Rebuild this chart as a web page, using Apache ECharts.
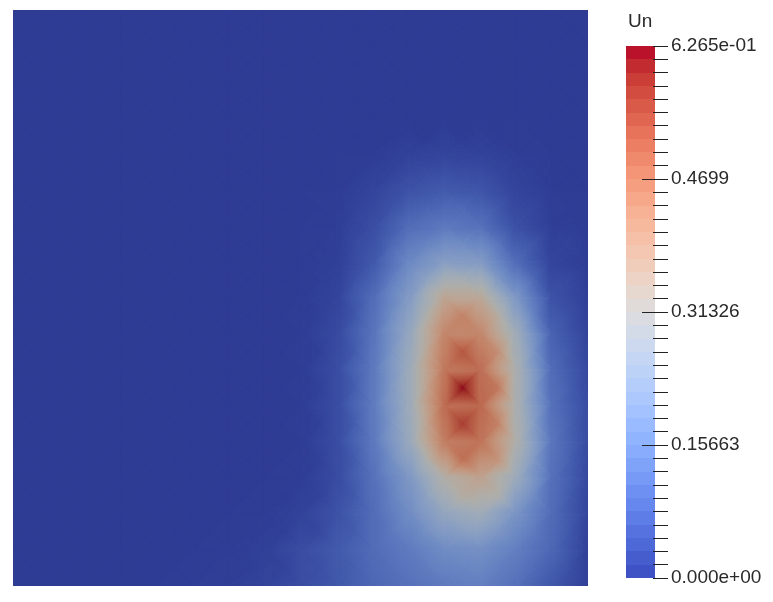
<!DOCTYPE html>
<html><head><meta charset="utf-8">
<style>html,body{margin:0;padding:0;background:#fff}#c{width:773px;height:602px}</style>
<script src="https://cdn.jsdelivr.net/npm/echarts@6/dist/echarts.min.js"></script>
</head><body><div id="c"></div>
<script>
const fieldName = 'Un';
const vMax = 0.6265;
// nodal values at the 17x17 corners of the mesh (top row first)
const cornerValues = [
[0,0,0,0,0,0,0,0,0,0,0,0,0,0,0,0,0],
[0,0,0,0,0,0,0,0,0,0,0,0,0,0,0,0,0],
[0,0,0,0,0,0,0,0,0,0,0,0,0,0,0,0,0],
[0,0,0,0,0,0,0,0,0,0,0,0,0,0,0,0,0],
[0,0,0,0,0,0,0,0,0,0,.002,.01,.015,.012,.004,0,0],
[0,0,0,0,0,0,0,0,0,.002,.015,.04,.055,.045,.015,.002,0],
[0,0,0,0,0,0,0,0,0,.004,.03,.09,.115,.10,.035,.006,.001],
[0,0,0,0,0,0,0,0,.001,.006,.05,.15,.21,.20,.09,.015,.003],
[0,0,0,0,0,0,0,0,.001,.015,.09,.20,.36,.35,.19,.04,.008],
[0,0,0,0,0,0,0,0,.002,.025,.105,.24,.44,.44,.27,.07,.015],
[0,0,0,0,0,0,0,0,.002,.03,.115,.26,.47,.49,.30,.09,.025],
[0,0,0,0,0,0,0,0,.002,.03,.12,.26,.49,.50,.30,.10,.03],
[0,0,0,0,0,0,0,0,.002,.03,.115,.25,.46,.48,.31,.11,.03],
[0,0,0,0,0,0,0,0,.003,.028,.10,.19,.32,.37,.26,.10,.025],
[0,0,0,0,0,0,0,.003,.012,.04,.09,.16,.24,.27,.18,.09,.018],
[0,0,0,0,0,.001,.003,.008,.03,.055,.09,.12,.16,.17,.13,.08,.012],
[0,0,0,0,.001,.003,.006,.015,.03,.05,.08,.10,.12,.13,.10,.05,.01]
];
// nodal values at the 16x16 quad centres (top row first)
const centerValues = [
[0,0,0,0,0,0,0,0,0,0,0,0,0,0,0,0],
[0,0,0,0,0,0,0,0,0,0,0,0,0,0,0,0],
[0,0,0,0,0,0,0,0,0,0,0,0,0,0,0,0],
[0,0,0,0,0,0,0,0,0,0,0,0,0,0,0,0],
[0,0,0,0,0,0,0,0,0,.002,.012,.03,.03,.02,.006,0],
[0,0,0,0,0,0,0,0,.001,.012,.04,.075,.085,.052,.019,.002],
[0,0,0,0,0,0,0,0,.002,.026,.08,.14,.16,.11,.046,.012],
[0,0,0,0,0,0,0,0,.005,.04,.125,.23,.29,.195,.083,.024],
[0,0,0,0,0,0,0,0,.007,.05,.159,.31,.45,.33,.135,.036],
[0,0,0,0,0,0,0,0,.008,.058,.18,.3525,.53,.42,.18,.05],
[0,0,0,0,0,0,0,0,.009,.062,.189,.37,.6265,.47,.198,.062],
[0,0,0,0,0,0,0,0,.009,.062,.186,.365,.57,.45,.205,.068],
[0,0,0,0,0,0,0,0,.009,.058,.164,.305,.49,.41,.195,.066],
[0,0,0,0,0,0,0,.001,.012,.055,.135,.2275,.33,.31,.158,.056],
[0,0,0,0,0,0,.001,.006,.022,.06,.115,.17,.215,.19,.12,.05],
[0,0,0,0,.001,.002,.004,.012,.035,.065,.0975,.125,.145,.13,.09,.037]
];
// Cool-to-warm colour stops
const colorStops = [[59,76,192],[68,90,204],[77,104,215],[87,117,225],[98,130,234],[108,142,241],[119,154,247],[130,165,251],[141,176,254],[152,185,255],[163,194,255],[174,201,253],[184,208,249],[194,213,244],[204,217,238],[213,219,230],[221,221,221],[229,216,209],[236,211,197],[241,204,185],[245,196,173],[247,187,160],[247,177,148],[247,166,135],[244,154,123],[241,141,111],[236,127,99],[229,112,88],[222,96,77],[213,80,66],[203,62,56],[192,40,47],[180,4,38]];
const meshShade = [0.79, 0.79, 0.77];
const barShade = [1, 1, 1];
const legendBandValues = [.0078,.0235,.0392,.0548,.0705,.0862,.1018,.1175,.1331,.1488,.1645,.1801,.1958,.2115,.2271,.2428,.2584,.2741,.2898,.3054,.3211,.3368,.3524,.3681,.3837,.3994,.4151,.4307,.4464,.4621,.4777,.4934,.5090,.5247,.5404,.5560,.5717,.5874,.6030,.6187];
const minorTickValues = [0,.0157,.0313,.047,.0627,.0783,.094,.1096,.1253,.141,.1566,.1723,.188,.2036,.2193,.235,.2506,.2663,.2819,.2976,.3133,.3289,.3446,.3603,.3759,.3916,.4072,.4229,.4386,.4542,.4699,.4856,.5012,.5169,.5326,.5482,.5639,.5795,.5952,.6109,.6265];
const majorTickValues = [0.15663,0.31326,0.4699];
const endTickValues = [0,0.6265];
const labelTexts = {'0':'0.000e+00','0.15663':'0.15663','0.31326':'0.31326','0.4699':'0.4699','0.6265':'6.265e-01'};

function rgb(v, k){
  const t = Math.max(0, Math.min(1, v / vMax)) * (colorStops.length - 1);
  const a = Math.min(Math.floor(t), colorStops.length - 2), f = t - a;
  const c = colorStops[a].map((s, n) => Math.round((s + (colorStops[a + 1][n] - s) * f) * k[n]));
  return 'rgb(' + c.join(',') + ')';
}
const triangles = [];
for (let j = 0; j < 16; j++) for (let i = 0; i < 16; i++) {
  const C = [i + .5, j + .5, centerValues[j][i]];
  const q = [[i, j, cornerValues[j][i]], [i + 1, j, cornerValues[j][i + 1]], [i + 1, j + 1, cornerValues[j + 1][i + 1]], [i, j + 1, cornerValues[j + 1][i]]];
  for (let k = 0; k < 4; k++) triangles.push([...q[k], ...q[(k + 1) % 4], ...C]);
}
function meshItem(params, api){
  const d = [0,1,2,3,4,5,6,7,8].map(n => api.value(n));
  const vs = [d[2], d[5], d[8]];
  const range = Math.max(...vs) - Math.min(...vs);
  const n = Math.max(1, Math.min(14, Math.ceil(range / 0.004)));
  const children = [];
  const P = (a, b) => {
    const c = n - a - b;
    return [(a * d[0] + b * d[3] + c * d[6]) / n, (a * d[1] + b * d[4] + c * d[7]) / n, (a * d[2] + b * d[5] + c * d[8]) / n];
  };
  const add = (p) => {
    const v = (p[0][2] + p[1][2] + p[2][2]) / 3, col = rgb(v, meshShade);
    children.push({type: 'polygon', shape: {points: p.map(q => api.coord([q[0], q[1]]))}, style: {fill: col, stroke: col, lineWidth: 1.6}, silent: true});
  };
  for (let a = 0; a < n; a++) for (let b = 0; b < n - a; b++) {
    add([P(a, b), P(a + 1, b), P(a, b + 1)]);
    if (a + b < n - 1) add([P(a + 1, b), P(a + 1, b + 1), P(a, b + 1)]);
  }
  return {type: 'group', children};
}
function bandItem(params, api){
  const v = api.value(0), h = vMax / legendBandValues.length / 2;
  const p0 = api.coord([0, v + h]), p1 = api.coord([1, v - h]);
  const bottom = Math.round(p1[1]);
  const top = params.dataIndex === legendBandValues.length - 1 ? Math.round(p0[1]) : Math.round(p0[1]) - 1;
  return {type: 'rect', shape: {x: p0[0], y: top, width: p1[0] - p0[0], height: bottom - top}, style: {fill: rgb(v, barShade)}, silent: true};
}
const font = {fontFamily: 'Liberation Sans', fontSize: 19, color: '#2a2a2a'};
const chart = echarts.init(document.getElementById('c'), null, {renderer: 'canvas'});
chart.setOption({
  animation: false,
  backgroundColor: '#ffffff',
  title: {text: fieldName, left: 628, top: 12, padding: 0, textStyle: {...font, fontWeight: 'normal'}},
  grid: [
    {left: 13, top: 10, width: 575, height: 576, show: true, backgroundColor: rgb(0, meshShade), borderWidth: 0},
    {left: 626, top: 46, width: 29, height: 532}
  ],
  xAxis: [
    {gridIndex: 0, type: 'value', min: 0, max: 16, show: false},
    {gridIndex: 1, type: 'value', min: 0, max: 1, show: false}
  ],
  yAxis: [
    {gridIndex: 0, type: 'value', min: 0, max: 16, inverse: true, show: false},
    {gridIndex: 1, type: 'value', min: 0, max: vMax, position: 'right', offset: -2, z: 10,
      splitLine: {show: false}, axisLine: {show: false, onZero: false}, axisLabel: {show: false},
      axisTick: {show: true, length: 15, customValues: minorTickValues, lineStyle: {color: '#222', width: 1}}},
    {gridIndex: 1, type: 'value', min: 0, max: vMax, position: 'right', offset: -13, z: 10,
      splitLine: {show: false}, axisLine: {show: false, onZero: false},
      axisTick: {show: true, length: 26, customValues: majorTickValues, lineStyle: {color: '#222', width: 1}},
      axisLabel: {show: true, margin: 29, padding: [2, 0, 0, 0], ...font, customValues: [...endTickValues, ...majorTickValues], formatter: v => labelTexts[String(v)]}}
  ],
  series: [
    {type: 'custom', coordinateSystem: 'cartesian2d', xAxisIndex: 0, yAxisIndex: 0, data: triangles, renderItem: meshItem, progressive: 0, silent: true, clip: true},
    {type: 'custom', coordinateSystem: 'cartesian2d', xAxisIndex: 1, yAxisIndex: 1, data: legendBandValues.map(v => [v]), renderItem: bandItem, progressive: 0, silent: true, z: 1, encode: {y: 0}}
  ]
});
</script></body></html>
